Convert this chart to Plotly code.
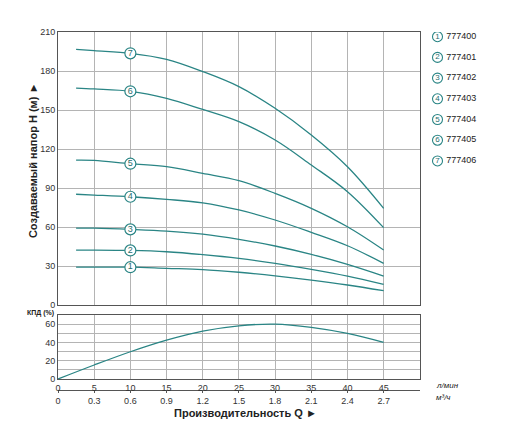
import plotly.graph_objects as go

# flow, l/min
q = [2.5, 5, 10, 15, 20, 25, 30, 35, 40, 45]

# head curves H (m) per model
h_777400 = [29.2, 29.2, 29.1, 28.2, 27.3, 25.2, 22.5, 19.2, 15.4, 11.0]
h_777401 = [42.3, 42.3, 42.0, 41.0, 38.8, 35.9, 32.1, 27.5, 22.3, 15.9]
h_777402 = [59.2, 59.1, 58.2, 56.9, 54.5, 50.5, 45.4, 39.0, 31.3, 22.3]
h_777403 = [85.2, 84.6, 83.3, 81.3, 78.6, 73.1, 65.4, 55.9, 45.6, 32.1]
h_777404 = [111.5, 111.3, 108.7, 106.4, 101.2, 95.6, 85.9, 74.4, 60.2, 42.3]
h_777405 = [166.9, 166.2, 164.4, 159.0, 150.4, 141.0, 126.9, 107.7, 87.2, 59.5]
h_777406 = [196.7, 195.6, 193.6, 189.0, 179.6, 168.0, 151.3, 130.8, 106.4, 74.4]

models = ["777400", "777401", "777402", "777403", "777404", "777405", "777406"]
heads = [h_777400, h_777401, h_777402, h_777403, h_777404, h_777405, h_777406]

# efficiency curve
q_eff = [0, 5, 10, 15, 20, 25, 30, 35, 40, 45]
eff = [0, 15.3, 29.8, 42.5, 52.4, 58.2, 60.0, 56.4, 49.8, 40.0]

# tick labels
q_ticks = [0, 5, 10, 15, 20, 25, 30, 35, 40, 45]
m3h_ticks = [0, 0.3, 0.6, 0.9, 1.2, 1.5, 1.8, 2.1, 2.4, 2.7]
label_q = 10  # where the circled numbers sit

TEAL = "#2a8585"
TEAL_TXT = "#1f6e6e"
GRID = "#b4b4b4"
BORDER = "#555555"
FONT = "Liberation Sans"

fig = go.Figure()

# --- head curves ---
for i, h in enumerate(heads):
    fig.add_trace(go.Scatter(x=q, y=h, mode="lines", line=dict(color=TEAL, width=1.3, shape="spline"),
                             xaxis="x", yaxis="y", showlegend=False, hoverinfo="skip"))

# circled numbers on curves
lab_y = [h[q.index(label_q)] for h in heads]
fig.add_trace(go.Scatter(
    x=[label_q] * len(heads), y=lab_y, mode="markers+text",
    text=[str(i + 1) for i in range(len(heads))], textposition="middle center",
    textfont=dict(size=9, color=TEAL_TXT, family=FONT),
    marker=dict(size=11, color="white", line=dict(color=TEAL, width=1.2)),
    xaxis="x", yaxis="y", showlegend=False, hoverinfo="skip"))

# --- efficiency curve ---
fig.add_trace(go.Scatter(x=q_eff, y=eff, mode="lines", line=dict(color=TEAL, width=1.3, shape="spline"),
                         xaxis="x2", yaxis="y2", showlegend=False, hoverinfo="skip"))

# helper trace so the m3/h axis is drawn
fig.add_trace(go.Scatter(x=[m3h_ticks[0]], y=[0], mode="markers", marker=dict(opacity=0),
                         xaxis="x3", yaxis="y2", showlegend=False, hoverinfo="skip"))

# --- legend on its own hidden axes ---
idx = list(range(len(models)))
fig.add_trace(go.Scatter(
    x=[16.3] * len(models), y=idx, mode="markers+text",
    text=[str(i + 1) for i in idx], textposition="middle center",
    textfont=dict(size=8, color=TEAL_TXT, family=FONT),
    marker=dict(size=10, color="white", line=dict(color=TEAL, width=1.1)),
    xaxis="x4", yaxis="y4", showlegend=False, hoverinfo="skip"))
fig.add_trace(go.Scatter(
    x=[25] * len(models), y=idx, mode="text", text=models, textposition="middle right",
    textfont=dict(size=9, color="#222", family=FONT),
    xaxis="x4", yaxis="y4", showlegend=False, hoverinfo="skip"))

tickfont = dict(size=9, color="#333", family=FONT)
frame = dict(showline=True, linecolor=BORDER, linewidth=1, mirror=True, zeroline=False)
xdom = [0, 0.797]

# page body has an 8px margin, so the figure is 8px smaller and margins shifted
fig.update_layout(
    width=504, height=417,
    margin=dict(l=50, r=0, t=24, b=20),
    paper_bgcolor="white", plot_bgcolor="white",
    font=dict(family=FONT, color="#222"),
    xaxis=dict(domain=xdom, anchor="y", range=[0, 50], tickvals=q_ticks, showticklabels=False,
               showgrid=True, gridcolor=GRID, gridwidth=1, ticks="", **frame),
    yaxis=dict(domain=[0.268, 1], anchor="x", range=[0, 210], dtick=30, tickfont=tickfont,
               showgrid=True, gridcolor=GRID, gridwidth=1, ticks="", **frame),
    xaxis2=dict(domain=xdom, anchor="y2", range=[0, 50], tickvals=q_ticks, tickfont=tickfont,
                showgrid=True, gridcolor=GRID, gridwidth=1, ticks="", **frame),
    yaxis2=dict(domain=[0.0697, 0.2413], anchor="x2", range=[0, 70], tickvals=[0, 20, 40, 60],
                tickfont=tickfont, showgrid=True, gridcolor=GRID, gridwidth=1, ticks="",
                minor=dict(dtick=10, showgrid=True, gridcolor=GRID, gridwidth=1), **frame),
    xaxis3=dict(domain=xdom, anchor="free", overlaying="x2", position=0.0402, range=[0, 3.0],
                tickvals=m3h_ticks, ticktext=[str(t) for t in m3h_ticks], tickfont=tickfont,
                showline=True, linecolor=BORDER, linewidth=1, ticks="outside", ticklen=2,
                tickcolor=BORDER, showgrid=False, zeroline=False),
    xaxis4=dict(domain=[0.8, 1], anchor="y4", range=[0, 90.8], visible=False),
    yaxis4=dict(domain=[0.268, 1], anchor="x4", range=[12.96, -0.227], visible=False),
)

annot = [
    dict(text="<b>Создаваемый напор H (м) ►</b>", x=-0.055, y=0.654, textangle=-90,
         xanchor="center", font=dict(size=11, color="#222")),
    dict(text="<b>КПД (%)</b>", x=-0.005, y=0.2466, xanchor="right", font=dict(size=7, color="#222")),
    dict(text="<i>л/мин</i>", x=0.828, y=0.051, xanchor="left", font=dict(size=8, color="#222")),
    dict(text="<i>м³/ч</i>", x=0.828, y=0.02, xanchor="left", font=dict(size=8, color="#222")),
    dict(text="<b>Производительность Q ►</b>", x=0.412, y=-0.021, xanchor="center",
         font=dict(size=11, color="#222")),
]
for a in annot:
    fig.add_annotation(xref="paper", yref="paper", showarrow=False, yanchor="middle", **a)

fig.write_html("out.html")
